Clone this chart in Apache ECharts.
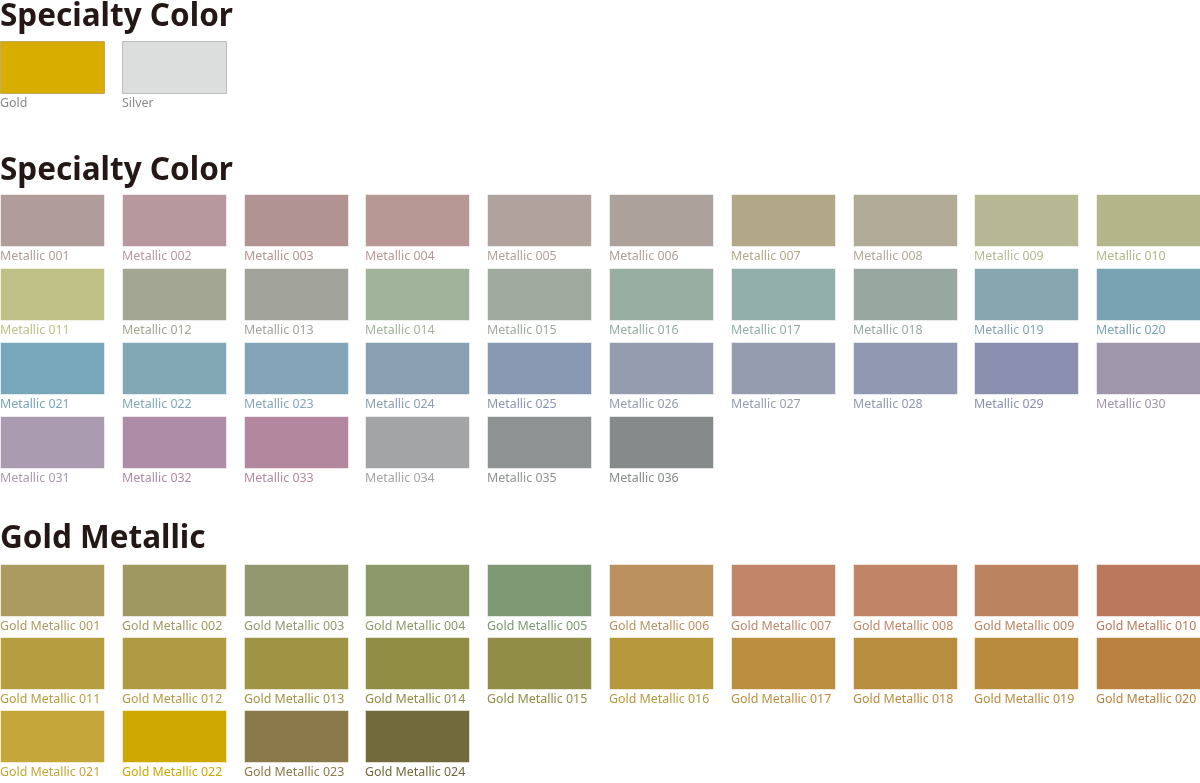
<!DOCTYPE html>
<html>
<head>
<meta charset="utf-8">
<script src="https://cdn.jsdelivr.net/npm/echarts@6/dist/echarts.min.js"></script>
<style>
html,body{margin:0;padding:0;background:#fff;}
#chart{width:1200px;height:783px;}
</style>
</head>
<body>
<div id="chart"></div>
<script>
// ---- Data ----
const sectionTitles = ['Specialty Color', 'Specialty Color', 'Gold Metallic'];

const specialtyNames = ['Gold', 'Silver'];
const specialtyColors = ['#d8ad00', '#dcdddd'];

const metallicNames = [
  'Metallic 001','Metallic 002','Metallic 003','Metallic 004','Metallic 005','Metallic 006','Metallic 007','Metallic 008','Metallic 009','Metallic 010',
  'Metallic 011','Metallic 012','Metallic 013','Metallic 014','Metallic 015','Metallic 016','Metallic 017','Metallic 018','Metallic 019','Metallic 020',
  'Metallic 021','Metallic 022','Metallic 023','Metallic 024','Metallic 025','Metallic 026','Metallic 027','Metallic 028','Metallic 029','Metallic 030',
  'Metallic 031','Metallic 032','Metallic 033','Metallic 034','Metallic 035','Metallic 036'
];
const metallicColors = [
  '#b09c9a','#b8989f','#b29393','#b89894','#b0a29c','#ada19b','#b2a888','#b0aa97','#b5b892','#b3b688',
  '#bfc086','#a2a693','#a2a39a','#a2b39c','#9fa99e','#97ada1','#92afa9','#98a8a1','#88a6af','#78a3b2',
  '#78a6ba','#82a7b5','#84a5b9','#8a9fb2','#8898b3','#969cb0','#959cb0','#9198b1','#8a8faf','#a096ab',
  '#ab9bb0','#ae8ba7','#b3889f','#a3a4a6','#8f9292','#868a8a'
];

const goldMetallicNames = [
  'Gold Metallic 001','Gold Metallic 002','Gold Metallic 003','Gold Metallic 004','Gold Metallic 005','Gold Metallic 006','Gold Metallic 007','Gold Metallic 008','Gold Metallic 009','Gold Metallic 010',
  'Gold Metallic 011','Gold Metallic 012','Gold Metallic 013','Gold Metallic 014','Gold Metallic 015','Gold Metallic 016','Gold Metallic 017','Gold Metallic 018','Gold Metallic 019','Gold Metallic 020',
  'Gold Metallic 021','Gold Metallic 022','Gold Metallic 023','Gold Metallic 024'
];
const goldMetallicColors = [
  '#ab9b61','#a09861','#93986f','#8c9a6b','#7e9873','#ba915f','#c1856a','#c08466','#bc8360','#bc785c',
  '#b69d3f','#b09b42','#9f9444','#928d45','#918d46','#b5983b','#bb8f3f','#b98d40','#b88b3e','#b9823e',
  '#c5a63a','#cca800','#8a7a4b','#72693c'
];

// ---- Layout (not data) ----
const COLS = 10;
const PITCH_X = 121.8;
const PITCH_Y = 74;
const SW_W = 104;
const SW_H = 52;
const CHART_W = 1200;
const sections = [
  { names: specialtyNames, colors: specialtyColors, top: 41, titleTop: 1, special: true },
  { names: metallicNames, colors: metallicColors, top: 194, titleTop: 155 },
  { names: goldMetallicNames, colors: goldMetallicColors, top: 564, titleTop: 523 }
];

const grids = [], xAxes = [], yAxes = [], series = [], graphics = [];
sections.forEach((sec, si) => {
  const rows = Math.ceil(sec.names.length / COLS);
  grids.push({ left: 0, top: sec.top, width: CHART_W, height: rows * PITCH_Y });
  xAxes.push({ gridIndex: si, type: 'value', min: 0, max: CHART_W / PITCH_X, show: false });
  yAxes.push({ gridIndex: si, type: 'value', min: 0, max: rows, inverse: true, show: false });
  const data = sec.names.map((n, i) => [i % COLS, Math.floor(i / COLS)]);
  series.push({
    type: 'custom',
    xAxisIndex: si, yAxisIndex: si,
    clip: false,
    silent: true,
    data: data,
    renderItem: function (params, api) {
      const p = api.coord([api.value(0), api.value(1)]);
      const idx = params.dataIndex;
      const color = sec.colors[idx];
      return {
        type: 'group',
        children: [
          {
            type: 'rect',
            shape: { x: Math.round(p[0]) + 0.5, y: Math.round(p[1]) + 0.5, width: SW_W, height: SW_H },
            style: {
              fill: color,
              stroke: sec.special ? 'rgba(0,0,0,0.2)' : 'rgba(255,255,255,0.55)',
              lineWidth: 1
            }
          },
          {
            type: 'text',
            x: Math.round(p[0]),
            y: Math.round(p[1]) + 62.5,
            style: {
              text: sec.names[idx],
              fill: sec.special ? '#8a8a8a' : color,
              font: '12.4px "Noto Sans"',
              align: 'left',
              verticalAlign: 'middle'
            }
          }
        ]
      };
    }
  });
  graphics.push({
    type: 'text',
    left: 0,
    top: sec.titleTop,
    style: {
      text: sectionTitles[si],
      fill: '#231815',
      font: 'bold 31.5px "Noto Sans"'
    }
  });
});

const chart = echarts.init(document.getElementById('chart'), null, { renderer: 'canvas' });
chart.setOption({
  animation: false,
  backgroundColor: '#ffffff',
  grid: grids,
  xAxis: xAxes,
  yAxis: yAxes,
  series: series,
  graphic: graphics
});
</script>
</body>
</html>
